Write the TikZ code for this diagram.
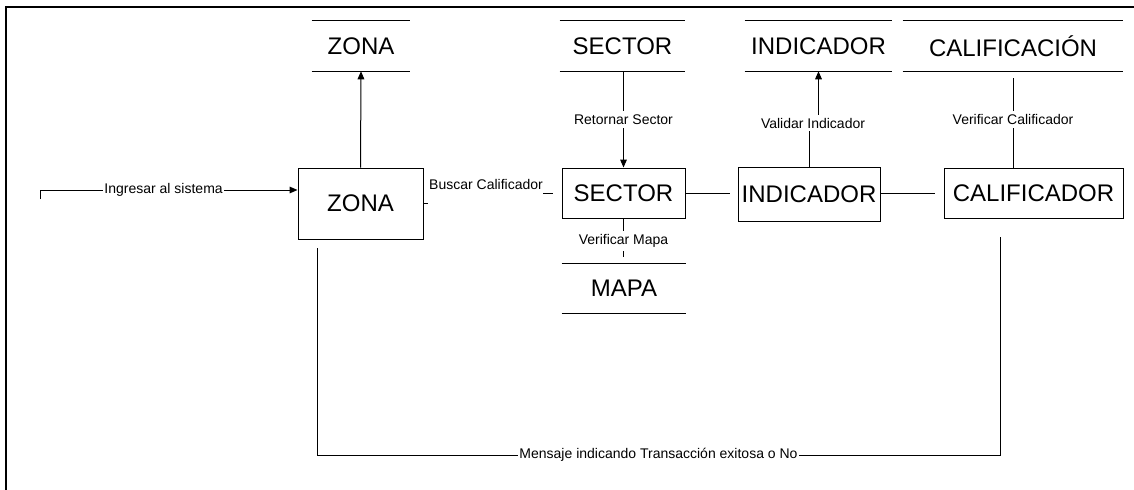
\documentclass[tikz,border=0pt]{standalone}
\usepackage{fontspec}
\setmainfont{Liberation Sans}
\usetikzlibrary{arrows.meta}
\begin{document}
\begin{tikzpicture}[x=0.75pt,y=-0.75pt,
  every node/.style={inner sep=0pt},
  proc/.style={draw,line width=0.75pt,font=\fontsize{18pt}{20pt}\selectfont},
  store/.style={minimum height={50*0.75pt},font=\fontsize{18pt}{20pt}\selectfont},
  lbl/.style={fill=white,inner xsep=1pt,inner ysep=2.5pt,font=\fontsize{10.5pt}{12pt}\selectfont},
  link/.style={line width=0.75pt},
  flow/.style={line width=0.75pt,-{Triangle[length=6pt,width=5pt]}}]
\useasboundingbox (0,0) rectangle (1134,489);

% outer frame (runs off the page on the right and at the bottom)
\draw[line width=1.5pt] (6,500) -- (6,7) -- (1145,7);

% processes
\node[proc,minimum width={125*0.75pt},minimum height={71*0.75pt}] (zona) at (360.5,203.5) {ZONA};
\node[proc,minimum width={123*0.75pt},minimum height={50*0.75pt}] (sector) at (623.5,193) {SECTOR};
\node[proc,minimum width={142*0.75pt},minimum height={54*0.75pt}] (indicador) at (809,194) {INDICADOR};
\node[proc,minimum width={179*0.75pt},minimum height={50*0.75pt}] (calificador) at (1033.5,193) {CALIFICADOR};

% data stores
\node[store,minimum width={98*0.75pt}] (zs) at (361,46) {ZONA};
\node[store,minimum width={125*0.75pt}] (ss) at (622.5,46) {SECTOR};
\node[store,minimum width={147*0.75pt}] (is) at (818.5,46) {INDICADOR};
\node[store,minimum width={220*0.75pt}] (cs) at (1013,46) {CALIFICACIÓN};
\node[store,minimum width={124*0.75pt},minimum height={49*0.75pt}] (ms) at (624,288.5) {MAPA};
\foreach \s in {zs,ss,is,cs,ms}{
  \draw[link] (\s.north west) -- (\s.north east);
  \draw[link] (\s.south west) -- (\s.south east);
}

% entry into the system
\coordinate (in) at (40,199);
\coordinate (inbend) at (40,190);
\draw[flow] (in) -- (inbend) -- node[lbl,pos=0.48] {Ingresar al sistema} (zona.west |- inbend);

% zona writes its store
\draw[flow] (zona.north) -- (zs.south);

% zona -> sector
\coordinate (b1) at (428,203);
\coordinate (b2) at (543,193);
\draw[link] (zona.east |- b1) -- (b1);
\draw[link,shorten >=9*0.75pt] (b2) -- (sector.west);
\node[lbl] at (486,184) {Buscar Calificador};

% sector reads its store
\draw[flow] (ss.south -| sector.north) -- node[lbl] {Retornar Sector} (sector.north);

% sector checks the map
\draw[link,shorten >=7*0.75pt] (sector.south) -- node[lbl] {Verificar Mapa} (ms.north -| sector.south);

% chain sector - indicador - calificador
\draw[link,shorten >=8*0.75pt] (sector.east) -- (indicador.west |- sector.east);
\draw[link,shorten >=9*0.75pt] (indicador.east |- calificador.west) -- (calificador.west);

% indicador validates against its store
\coordinate (vi) at (813,123);
\draw[flow] (indicador.north) |- (vi) -| (is.south);
\node[lbl] at (vi) {Validar Indicador};

% calificador checks the rating store
\draw[link,shorten <=7*0.75pt] (cs.south) -- node[lbl] {Verificar Calificador} (cs.south |- calificador.north);

% result message back to zona
\coordinate (m1) at (317,248);
\coordinate (m2) at (1000,237);
\coordinate (mb) at (0,455);
\draw[link] (m1) -- (m1 |- mb) -- node[lbl,inner ysep=1pt] {Mensaje indicando Transacción exitosa o No} (m2 |- mb) -- (m2);
\end{tikzpicture}
\end{document}
